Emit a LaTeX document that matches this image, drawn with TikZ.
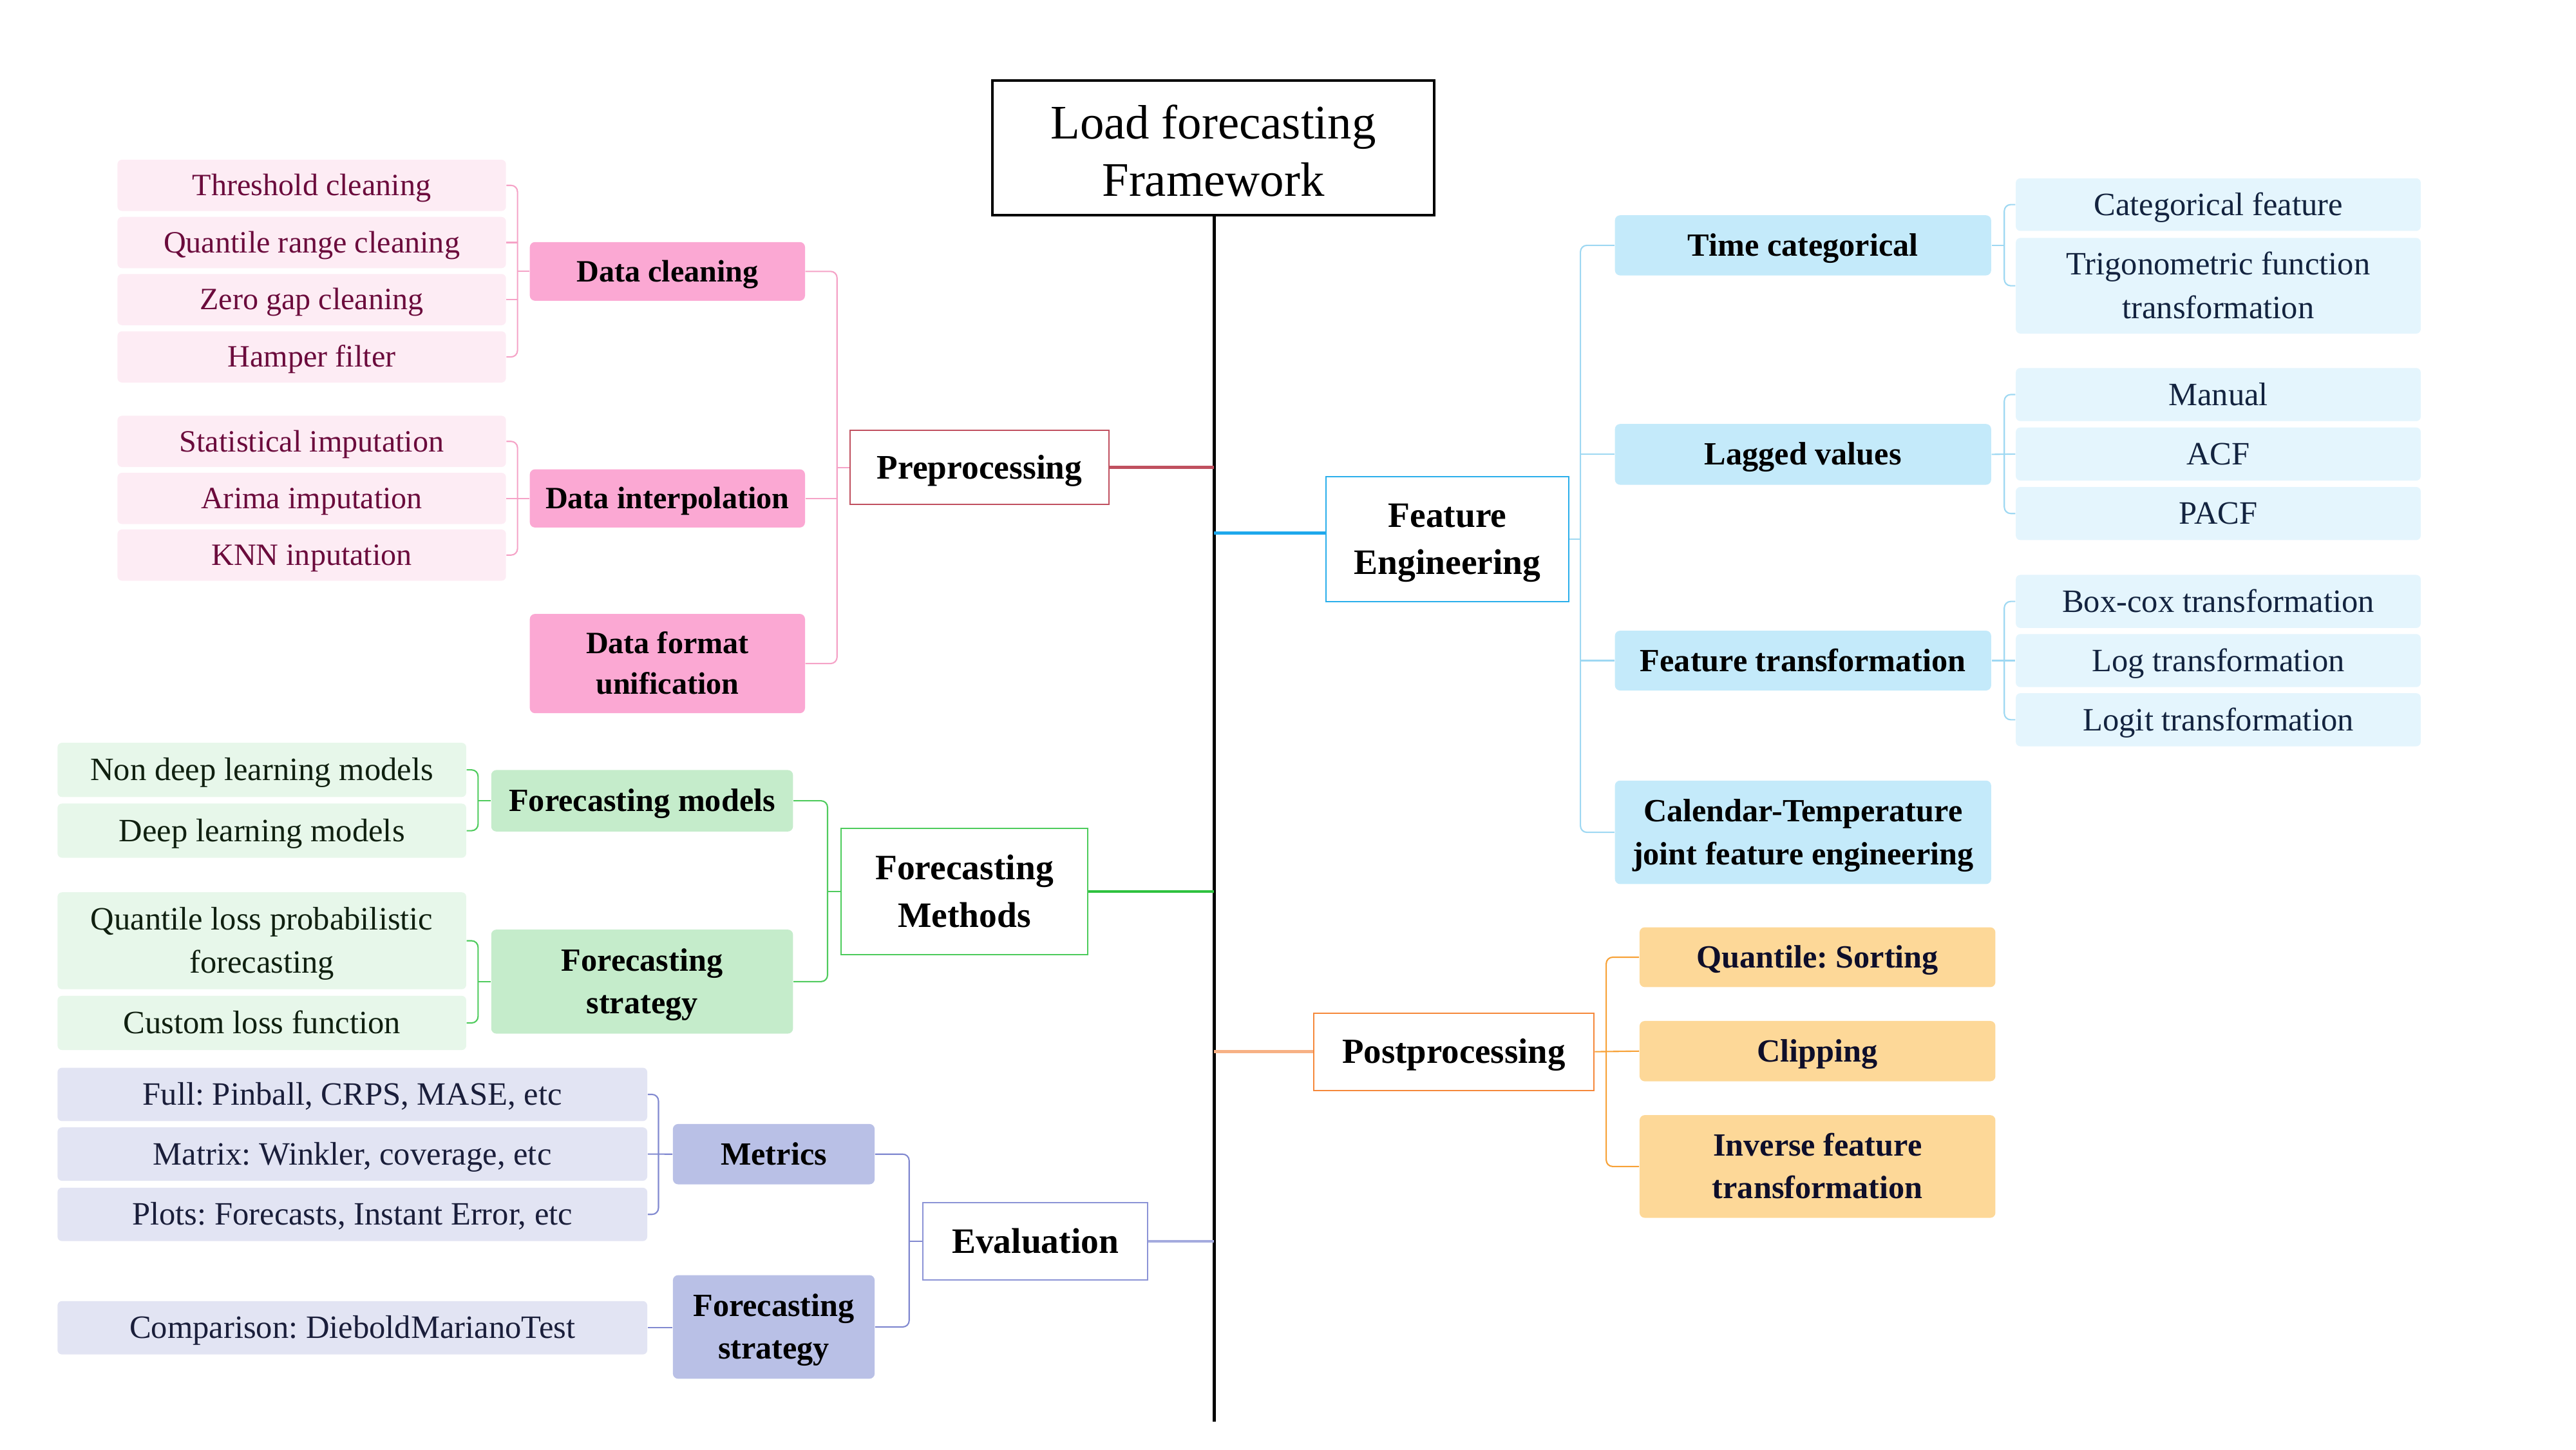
\documentclass[tikz,border=0pt]{standalone}
\usepackage{fontspec}
\setmainfont{Liberation Serif}
\frenchspacing
\newcommand{\Tp}{\rule{0pt}{0.95em}}
\newcommand{\Bt}{\rule[-0.29em]{0pt}{0.29em}}
\definecolor{pkB}{HTML}{C0505F}
\definecolor{pkL}{HTML}{F5A3C7}
\definecolor{pkM}{HTML}{FBA8D3}
\definecolor{pkF}{HTML}{FDECF4}
\definecolor{pkT}{HTML}{6B0B3C}
\definecolor{blB}{HTML}{2AAEEB}
\definecolor{blK}{HTML}{1EA8EC}
\definecolor{blL}{HTML}{9ED8F2}
\definecolor{blM}{HTML}{C4EAFA}
\definecolor{blF}{HTML}{E4F5FD}
\definecolor{blT}{HTML}{13233F}
\definecolor{grB}{HTML}{4CCB5B}
\definecolor{grK}{HTML}{2EC23F}
\definecolor{grL}{HTML}{4FCB5D}
\definecolor{grM}{HTML}{C5ECCB}
\definecolor{grF}{HTML}{E7F7EA}
\definecolor{grT}{HTML}{102010}
\definecolor{orB}{HTML}{F5883A}
\definecolor{orK}{HTML}{F7B185}
\definecolor{orL}{HTML}{F7A136}
\definecolor{orM}{HTML}{FDD898}
\definecolor{orT}{HTML}{0E0E2A}
\definecolor{puB}{HTML}{8B93D6}
\definecolor{puK}{HTML}{A4ABDE}
\definecolor{puL}{HTML}{8189D0}
\definecolor{puM}{HTML}{B9C0E6}
\definecolor{puF}{HTML}{E2E4F3}
\definecolor{puT}{HTML}{1A1E3A}
\begin{document}
\begin{tikzpicture}[x=0.2551mm,y=-0.2551mm,
  sz/.style 2 args={minimum width=#1*0.2551mm, minimum height=#2*0.2551mm},
  base/.style={align=center, inner sep=0pt,
    execute at begin node={\Tp},
    execute at end node={\Bt}},
  multi/.style={execute at begin node={}, execute at end node={}},
  leaf/.style={base, rounded corners=0.7mm, font=\fontsize{14.4}{19.2}\selectfont},
  pleaf/.style={base, rounded corners=0.7mm, font=\fontsize{13.7}{18.2}\selectfont},
  mid/.style={base, rounded corners=0.8mm, font=\bfseries\fontsize{14.3}{19}\selectfont},
  pmid/.style={base, rounded corners=0.8mm, font=\bfseries\fontsize{13.7}{18.2}\selectfont},
  lone/.style={base, draw, line width=0.6pt, fill=white, font=\bfseries\fontsize{15.8}{21}\selectfont},
  br/.style={line width=0.6pt, rounded corners=1mm},
  link/.style={line width=1.3pt}]
\useasboundingbox (0,0) rectangle (1568,882);

% title and spine
\node[base, multi, draw, line width=1.1pt, sz={269}{82}, font=\fontsize{21.3}{25.3}\selectfont] (title) at (738.5,90) {\rule{0pt}{1.1em}Load forecasting\\Framework\Bt};
\coordinate (spb) at (739,865);
\draw[line width=1.35pt] (title.south -| spb) -- (spb);

% ---------- Preprocessing ----------
\node[lone, draw=pkB, sz={157.5}{45}, font=\bfseries\fontsize{15.2}{21}\selectfont] (pre) at (596.25,284.5) {Preprocessing};
\node[pmid, fill=pkM, sz={167.5}{35.7}] (dc) at (406.25,165.15) {Data cleaning};
\node[pmid, fill=pkM, sz={167.5}{35.4}] (di) at (406.25,303.3) {Data interpolation};
\node[pmid, multi, fill=pkM, sz={167.5}{60.4}] (df) at (406.25,403.8) {\Tp Data format\\unification\Bt};
\foreach \n/\y/\t in {p1/112.8/Threshold cleaning, p2/147.6/Quantile range cleaning, p3/182.3/Zero gap cleaning, p4/217.2/Hamper filter, p5/268.6/Statistical imputation, p6/303.3/Arima imputation, p7/337.8/KNN inputation}
  \node[pleaf, fill=pkF, text=pkT, sz={236.5}{31.2}] (\n) at (189.75,\y) {\t};
\coordinate (bpa) at (315,0);
\coordinate (bpb) at (509.5,0);
\draw[br, pkL] (p1.east) -- (p1.east -| bpa) -- (p4.east -| bpa) -- (p4.east);
\draw[br, pkL] (p2.east) -- (p2.east -| bpa) (p3.east) -- (p3.east -| bpa) (dc.west) -- (dc.west -| bpa);
\draw[br, pkL] (p5.east) -- (p5.east -| bpa) -- (p7.east -| bpa) -- (p7.east);
\draw[br, pkL] (p6.east) -- (di.west);
\draw[br, pkL] (dc.east) -- (dc.east -| bpb) -- (df.east -| bpb) -- (df.east);
\draw[br, pkL] (di.east) -- (di.east -| bpb) (pre.west) -- (pre.west -| bpb);
\draw[link, pkB] (pre.east) -- (pre.east -| spb);

% ---------- Feature Engineering ----------
\node[lone, multi, draw=blB, sz={148}{76}] (fe) at (881,328) {\Tp Feature\\Engineering\Bt};
\node[mid, fill=blM, sz={229}{36.6}] (tc) at (1097.5,149.3) {Time categorical};
\node[mid, fill=blM, sz={229}{37}] (lv) at (1097.5,276.5) {Lagged values};
\node[mid, fill=blM, sz={229}{36.4}] (ft) at (1097.5,402) {Feature transformation};
\node[mid, multi, fill=blM, sz={229}{63}] (ct) at (1097.5,506.5) {\Tp Calendar-Temperature\\joint feature engineering\Bt};
\node[leaf, fill=blF, text=blT, sz={246.5}{32}] (b1) at (1350.25,124.5) {Categorical feature};
\node[leaf, multi, fill=blF, text=blT, sz={246.5}{58.2}] (b2) at (1350.25,173.9) {\Tp Trigonometric function\\transformation\Bt};
\foreach \n/\y/\t in {b3/240.1/Manual, b4/276.3/ACF, b5/312.5/PACF, b6/366/Box-cox transformation, b7/402/Log transformation, b8/438/Logit transformation}
  \node[leaf, fill=blF, text=blT, sz={246.5}{32.3}] (\n) at (1350.25,\y) {\t};
\coordinate (bfa) at (962,0);
\coordinate (bfb) at (1220,0);
\coordinate (fej) at (0,324.4);
\draw[br, blL] (tc.west) -- (tc.west -| bfa) -- (ct.west -| bfa) -- (ct.west);
\draw[br, blL] (lv.west) -- (lv.west -| bfa) (ft.west) -- (ft.west -| bfa) (fe.east) -- (fe.east -| bfa);
\draw[br, blL] (b1.west) -- (b1.west -| bfb) -- (b2.west -| bfb) -- (b2.west);
\draw[br, blL] (tc.east) -- (tc.east -| bfb);
\draw[br, blL] (b3.west) -- (b3.west -| bfb) -- (b5.west -| bfb) -- (b5.west);
\draw[br, blL] (lv.east) -- (b4.west);
\draw[br, blL] (b6.west) -- (b6.west -| bfb) -- (b8.west -| bfb) -- (b8.west);
\draw[br, blL] (ft.east) -- (b7.west);
\draw[link, blK] (fe.west |- fej) -- (spb |- fej);

% ---------- Forecasting Methods ----------
\node[lone, multi, draw=grB, sz={150}{77}] (fm) at (587,542.5) {\Tp Forecasting\\Methods\Bt};
\node[mid, fill=grM, sz={183.7}{37.4}] (fmod) at (390.85,487.3) {Forecasting models};
\node[mid, multi, fill=grM, sz={183.7}{63.3}] (fstr) at (390.85,597.35) {\Tp Forecasting\\strategy\Bt};
\node[leaf, fill=grF, text=grT, sz={248.8}{33}] (g1) at (159.4,468.5) {Non deep learning models};
\node[leaf, fill=grF, text=grT, sz={248.8}{33}] (g2) at (159.4,505.5) {Deep learning models};
\node[leaf, multi, fill=grF, text=grT, sz={248.8}{59}] (g3) at (159.4,572.5) {\Tp Quantile loss probabilistic\\forecasting\Bt};
\node[leaf, fill=grF, text=grT, sz={248.8}{33}] (g4) at (159.4,622.5) {Custom loss function};
\coordinate (bga) at (291,0);
\coordinate (bgb) at (503.7,0);
\draw[br, grL] (g1.east) -- (g1.east -| bga) -- (g2.east -| bga) -- (g2.east);
\draw[br, grL] (fmod.west) -- (fmod.west -| bga);
\draw[br, grL] (g3.east) -- (g3.east -| bga) -- (g4.east -| bga) -- (g4.east);
\draw[br, grL] (fstr.west) -- (fstr.west -| bga);
\draw[br, grL] (fmod.east) -- (fmod.east -| bgb) -- (fstr.east -| bgb) -- (fstr.east);
\draw[br, grL] (fm.west) -- (fm.west -| bgb);
\draw[link, grK] (fm.east) -- (fm.east -| spb);

% ---------- Postprocessing ----------
\node[lone, draw=orB, sz={170.8}{47}, font=\bfseries\fontsize{15.6}{21}\selectfont] (post) at (884.9,640) {Postprocessing};
\node[mid, fill=orM, text=orT, sz={216.6}{36.4}] (qs) at (1106.3,582.5) {Quantile: Sorting};
\node[mid, fill=orM, text=orT, sz={216.6}{36.7}] (clip) at (1106.3,639.65) {Clipping};
\node[mid, multi, fill=orM, text=orT, sz={216.6}{62.5}] (inv) at (1106.3,709.85) {\Tp Inverse feature\\transformation\Bt};
\coordinate (boa) at (977.7,0);
\draw[br, orL] (qs.west) -- (qs.west -| boa) -- (inv.west -| boa) -- (inv.west);
\draw[br, orL] (post.east) -- (clip.west);
\draw[link, orK] (post.west) -- (post.west -| spb);

% ---------- Evaluation ----------
\node[lone, draw=puB, sz={137}{47.3}] (ev) at (630.2,755.35) {Evaluation};
\node[mid, fill=puM, sz={122.8}{36.7}] (met) at (471,702.35) {Metrics};
\node[mid, multi, fill=puM, sz={122.8}{63}] (fs2) at (471,807.5) {\Tp Forecasting\\strategy\Bt};
\foreach \n/\y/\t in {u1/666/{Full: Pinball, CRPS, MASE, etc}, u2/702.3/{Matrix: Winkler, coverage, etc}, u3/739/{Plots: Forecasts, Instant Error, etc}, u4/808/{Comparison: DieboldMarianoTest}}
  \node[leaf, fill=puF, text=puT, sz={359}{32.5}] (\n) at (214.5,\y) {\t};
\coordinate (bua) at (400.8,0);
\coordinate (bub) at (553.4,0);
\draw[br, puL] (u1.east) -- (u1.east -| bua) -- (u3.east -| bua) -- (u3.east);
\draw[br, puL] (u2.east) -- (met.west);
\draw[br, puL] (u4.east) -- (u4.east -| fs2.west);
\draw[br, puL] (met.east) -- (met.east -| bub) -- (fs2.east -| bub) -- (fs2.east);
\draw[br, puL] (ev.west) -- (ev.west -| bub);
\draw[link, puK] (ev.east) -- (ev.east -| spb);
\end{tikzpicture}
\end{document}
